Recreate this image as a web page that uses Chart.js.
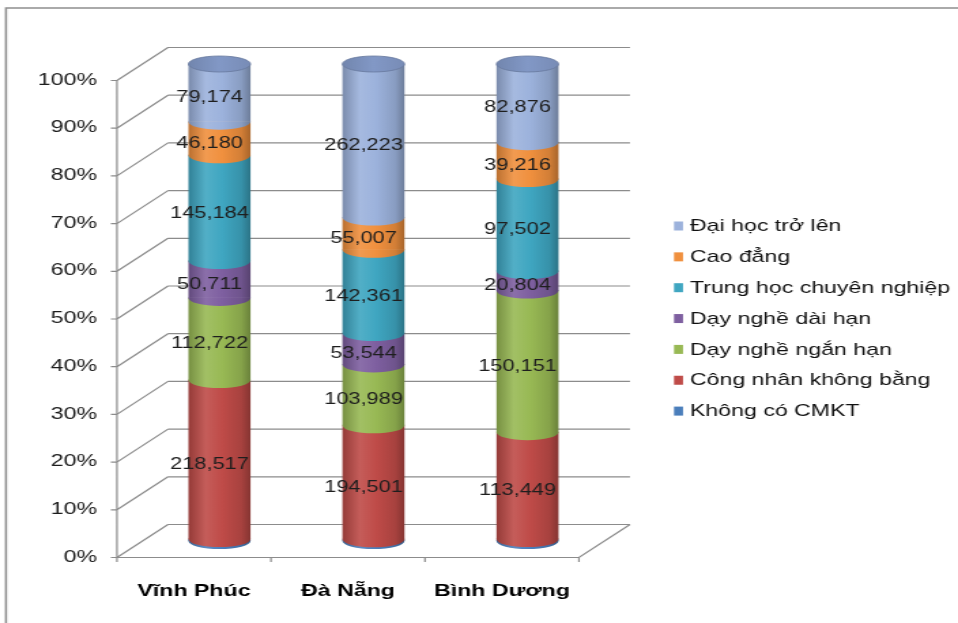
<!DOCTYPE html>
<html>
<head>
<meta charset="utf-8">
<title>Cơ cấu lao động theo trình độ chuyên môn kỹ thuật</title>
<script src="https://cdn.jsdelivr.net/npm/chart.js@4.4.1/dist/chart.umd.min.js"></script>
<style>
  html, body { margin: 0; padding: 0; background: #ffffff; overflow: hidden; }
  /* the drawing is laid out on a 704px-wide canvas and shown widened to 958px */
  #wrap { position: absolute; left: 0; top: 0; width: 704px; height: 623px;
          transform: scale(1.3608, 1); transform-origin: 0 0; }
  canvas { display: block; }
</style>
</head>
<body>
<div id="wrap"><canvas id="chart" width="704" height="623"></canvas></div>
<script>
// ---- data ----
const categories = ['Vĩnh Phúc', 'Đà Nẵng', 'Bình Dương'];

const khongCoCMKT          = [2600, 3000, 2000];
const congNhanKhongBang    = [218517, 194501, 113449];
const dayNgheNganHan       = [112722, 103989, 150151];
const dayNgheDaiHan        = [50711, 53544, 20804];
const trungHocChuyenNghiep = [145184, 142361, 97502];
const caoDang              = [46180, 55007, 39216];
const daiHocTroLen         = [79174, 262223, 82876];

const percentTicks = [0, 10, 20, 30, 40, 50, 60, 70, 80, 90, 100];

// series from the bottom of each column to the top
const seriesNames  = ['Không có CMKT', 'Công nhân không bằng', 'Dạy nghề ngắn hạn',
                      'Dạy nghề dài hạn', 'Trung học chuyên nghiệp', 'Cao đẳng', 'Đại học trở lên'];
const seriesValues = [khongCoCMKT, congNhanKhongBang, dayNgheNganHan, dayNgheDaiHan,
                      trungHocChuyenNghiep, caoDang, daiHocTroLen];
const seriesShowValue = [false, true, true, true, true, true, true];

// ---- styles ----
const seriesColors = ['#4a7ebb', '#bf4b48', '#98b954', '#7e5fa0', '#3fa6c1', '#f0903e', '#9cb2dc'];
const capColor = '#8298c6';
const FONT = "'Liberation Sans', Arial, sans-serif";
const GRID = '#8c8c8c';

// 100% stacking: each value as a share of its column total
const totals = categories.map((_, j) => seriesValues.reduce((s, arr) => s + arr[j], 0));
const shares = seriesValues.map(arr => arr.map((v, j) => v / totals[j] * 100));

function mix(hex, target, t) {
  const c = parseInt(hex.slice(1), 16);
  const r = c >> 16, g = (c >> 8) & 255, b = c & 255;
  const f = v => Math.round(v + (target - v) * t);
  return `rgb(${f(r)},${f(g)},${f(b)})`;
}
function cylinderFill(ctx, x0, x1, color) {
  const g = ctx.createLinearGradient(x0, 0, x1, 0);
  g.addColorStop(0, mix(color, 0, 0.22));
  g.addColorStop(0.28, mix(color, 255, 0.10));
  g.addColorStop(0.55, color);
  g.addColorStop(0.85, mix(color, 0, 0.12));
  g.addColorStop(1, mix(color, 0, 0.30));
  return g;
}

// depth of the 3-D box (cylinders stand half way in)
const DEPTH_X = 37.5, DEPTH_Y = 33;
const ELLIPSE_RY = 8;

// page frame and background
const pageFrame = {
  id: 'pageFrame',
  beforeDraw(chart) {
    const { ctx, width, height } = chart;
    ctx.save();
    ctx.fillStyle = '#ffffff';
    ctx.fillRect(0, 0, width, height);
    ctx.strokeStyle = '#8e8e8e';
    ctx.lineWidth = 1.6;
    ctx.beginPath();
    ctx.moveTo(4.4, height + 5);
    ctx.lineTo(4.4, 8);
    ctx.lineTo(width + 5, 8);
    ctx.stroke();
    ctx.restore();
  }
};

// back wall, side wall, floor and the front value axis
const box3d = {
  id: 'box3d',
  beforeDatasetsDraw(chart) {
    const { ctx, chartArea: a, scales: { y } } = chart;
    const hx = DEPTH_X / 2, hy = DEPTH_Y / 2;
    const fl = a.left - hx, fr = a.right - hx;   // front plane
    const bl = a.left + hx, br = a.right + hx;   // back plane
    ctx.save();
    ctx.strokeStyle = GRID;
    ctx.lineWidth = 1.2;
    ctx.beginPath();
    percentTicks.forEach(v => {
      const p = y.getPixelForValue(v);
      ctx.moveTo(bl, p - hy); ctx.lineTo(br, p - hy);        // back wall
      ctx.moveTo(fl, p + hy); ctx.lineTo(bl, p - hy);        // side wall
      ctx.moveTo(fl - 4.5, p + hy); ctx.lineTo(fl, p + hy);  // tick mark
    });
    const p0 = y.getPixelForValue(0), p100 = y.getPixelForValue(100);
    ctx.moveTo(fl, p100 + hy); ctx.lineTo(fl, p0 + hy);      // value axis
    ctx.moveTo(fl, p0 + hy); ctx.lineTo(fr, p0 + hy);        // floor front edge
    ctx.lineTo(br, p0 - hy);                                 // floor right edge
    const step = (a.right - a.left) / categories.length;
    for (let k = 0; k <= categories.length; k++) {
      const x = fl + k * step;
      ctx.moveTo(x, p0 + hy); ctx.lineTo(x, p0 + hy + 4.5);
    }
    ctx.stroke();
    ctx.restore();
  }
};

// cylinders over the bar geometry computed by the chart
const cylinders = {
  id: 'cylinders',
  afterDatasetsDraw(chart) {
    const { ctx } = chart;
    const metas = chart.data.datasets.map((_, i) => chart.getDatasetMeta(i));
    ctx.save();
    for (let j = 0; j < categories.length; j++) {
      const bars = metas.map(m => m.data[j]);
      // side bodies
      bars.forEach((el, i) => {
        const x0 = el.x - el.width / 2, x1 = el.x + el.width / 2;
        ctx.fillStyle = cylinderFill(ctx, x0, x1, seriesColors[i]);
        ctx.fillRect(x0, el.y, el.width, el.base - el.y);
      });
      // rounded lower edge of every segment
      bars.forEach((el, i) => {
        const x0 = el.x - el.width / 2, x1 = el.x + el.width / 2;
        ctx.fillStyle = cylinderFill(ctx, x0, x1, seriesColors[i]);
        ctx.beginPath();
        ctx.moveTo(x1, el.base - 0.5);
        ctx.lineTo(x1, el.base);
        ctx.ellipse(el.x, el.base, el.width / 2, ELLIPSE_RY, 0, 0, Math.PI, false);
        ctx.lineTo(x0, el.base - 0.5);
        ctx.closePath();
        ctx.fill();
      });
      // top face
      const top = bars[bars.length - 1];
      const g = ctx.createLinearGradient(top.x - top.width / 2, 0, top.x + top.width / 2, 0);
      g.addColorStop(0, mix(capColor, 0, 0.12));
      g.addColorStop(0.5, capColor);
      g.addColorStop(1, mix(capColor, 0, 0.08));
      ctx.fillStyle = g;
      ctx.beginPath();
      ctx.ellipse(top.x, top.y, top.width / 2, ELLIPSE_RY, 0, 0, Math.PI * 2);
      ctx.fill();
      ctx.strokeStyle = mix(capColor, 0, 0.2);
      ctx.lineWidth = 0.8;
      ctx.stroke();
    }
    ctx.restore();
  }
};

// value labels inside the segments
const valueLabels = {
  id: 'valueLabels',
  afterDatasetsDraw(chart) {
    const { ctx } = chart;
    ctx.save();
    ctx.font = `16px ${FONT}`;
    ctx.fillStyle = '#1e1e1e';
    ctx.textAlign = 'center';
    ctx.textBaseline = 'middle';
    chart.data.datasets.forEach((ds, i) => {
      if (!seriesShowValue[i]) return;
      chart.getDatasetMeta(i).data.forEach((el, j) => {
        const text = seriesValues[i][j].toLocaleString('en-US');
        ctx.fillText(text, el.x - 7.3, (el.y + el.base) / 2 + 5);
      });
    });
    ctx.restore();
  }
};

// legend, top series first
const sideLegend = {
  id: 'sideLegend',
  afterDraw(chart) {
    const { ctx } = chart;
    ctx.save();
    ctx.font = `17px ${FONT}`;
    ctx.textBaseline = 'middle';
    ctx.textAlign = 'left';
    const order = seriesNames.map((_, i) => i).reverse();
    order.forEach((i, k) => {
      const yc = 226 + k * 30.85;
      ctx.fillStyle = seriesColors[i];
      ctx.fillRect(495.3, yc - 4.5, 6.6, 9);
      ctx.fillStyle = '#111111';
      ctx.fillText(seriesNames[i], 507, yc + 0.5);
    });
    ctx.restore();
  }
};

new Chart(document.getElementById('chart'), {
  type: 'bar',
  data: {
    labels: categories,
    datasets: seriesNames.map((name, i) => ({
      label: name,
      data: shares[i],
      backgroundColor: 'rgba(0,0,0,0)',
      borderWidth: 0,
      barPercentage: 0.403,
      categoryPercentage: 1
    }))
  },
  options: {
    responsive: false,
    animation: false,
    devicePixelRatio: 1,
    layout: { padding: { top: 64, right: 259.8, bottom: 0, left: 0 } },
    plugins: { legend: { display: false }, tooltip: { enabled: false } },
    scales: {
      x: {
        stacked: true,
        grid: { display: false, drawTicks: false },
        border: { display: false },
        ticks: {
          font: { family: FONT, size: 17, weight: 'bold' },
          color: '#000000',
          padding: 40,
          labelOffset: -DEPTH_X / 2,
          maxRotation: 0,
          autoSkip: false
        },
        afterFit(scale) { scale.height = 82; }
      },
      y: {
        stacked: true,
        min: 0,
        max: 100,
        grid: { display: false, drawTicks: false },
        border: { display: false },
        afterBuildTicks(scale) { scale.ticks = percentTicks.map(v => ({ value: v })); },
        ticks: {
          callback: v => v + '%',
          font: { family: FONT, size: 17 },
          color: '#1c1c1c',
          padding: 33.4,
          labelOffset: 16
        },
        afterFit(scale) { scale.width = 104.7; }
      }
    }
  },
  plugins: [pageFrame, box3d, cylinders, valueLabels, sideLegend]
});
</script>
</body>
</html>
